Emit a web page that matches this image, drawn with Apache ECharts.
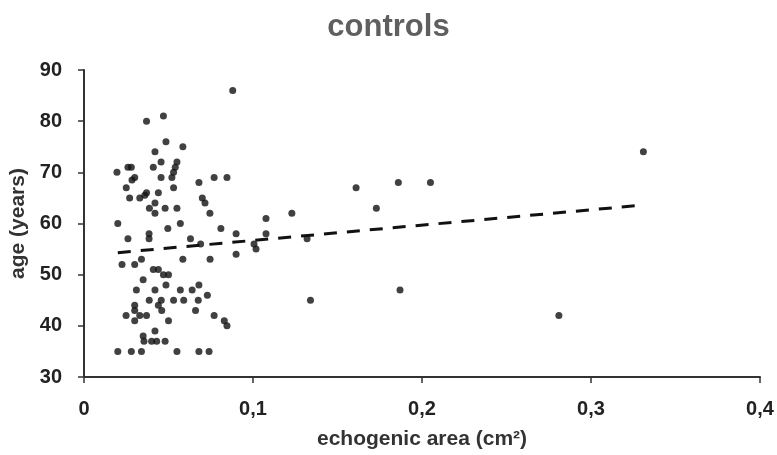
<!DOCTYPE html>
<html>
<head>
<meta charset="utf-8">
<script src="https://cdn.jsdelivr.net/npm/echarts@6/dist/echarts.min.js"></script>
<style>html,body{margin:0;padding:0;background:#fff;}#c{width:777px;height:455px;}</style>
</head>
<body>
<div id="c"></div>
<script>
var titleText = 'controls';
var xName = 'echogenic area (cm²)';
var yName = 'age (years)';
var xTickLabels = ['0', '0,1', '0,2', '0,3', '0,4'];
var yTickLabels = ['30', '40', '50', '60', '70', '80', '90'];

var areaValues = [
  0.088, 0.037, 0.047, 0.0485, 0.0585, 0.042, 0.0456, 0.055, 0.0195, 0.026,
  0.028, 0.041, 0.054, 0.053, 0.052, 0.030, 0.0284, 0.025, 0.0456, 0.053,
  0.068, 0.077, 0.0846, 0.027, 0.033, 0.036, 0.037, 0.044, 0.042, 0.0387,
  0.042, 0.048, 0.055, 0.070, 0.0716, 0.0745, 0.020, 0.057, 0.0496, 0.081,
  0.026, 0.0385, 0.0385, 0.063, 0.090, 0.0225, 0.030, 0.034, 0.0585, 0.0746,
  0.090, 0.035, 0.041, 0.044, 0.047, 0.050, 0.031, 0.042, 0.0485, 0.057,
  0.064, 0.068, 0.0386, 0.0457, 0.053, 0.059, 0.0676, 0.073, 0.030, 0.030,
  0.030, 0.0249, 0.033, 0.037, 0.044, 0.046, 0.050, 0.066, 0.077, 0.083,
  0.0846, 0.042, 0.035, 0.0355, 0.040, 0.043, 0.048, 0.020, 0.028, 0.034,
  0.055, 0.068, 0.074, 0.069, 0.1006, 0.1018, 0.1077, 0.1077, 0.123, 0.132,
  0.134, 0.161, 0.173, 0.186, 0.205, 0.187, 0.331, 0.281
];
var ageValues = [
  86, 80, 81, 76, 75, 74, 72, 72, 70, 71,
  71, 71, 71, 70, 69, 69, 68.5, 67, 69, 67,
  68, 69, 69, 65, 65, 65.5, 66, 66, 64, 63,
  62, 63, 63, 65, 64, 62, 60, 60, 59, 59,
  57, 58, 57, 57, 58, 52, 52, 53, 53, 53,
  54, 49, 51, 51, 50, 50, 47, 47, 48, 47,
  47, 48, 45, 45, 45, 45, 45, 46, 44, 43,
  41, 42, 42, 42, 44, 43, 41, 43, 42, 41,
  40, 39, 38, 37, 37, 37, 37, 35, 35, 35,
  35, 35, 35, 56, 56, 55, 61, 58, 62, 57,
  45, 67, 63, 68, 68, 47, 74, 42
];
var trendX = [0.02, 0.331];
var trendY = [54.3, 63.6];

var points = areaValues.map(function (x, i) { return [x, ageValues[i]]; });
var trend = trendX.map(function (x, i) { return [x, trendY[i]]; });

var chart = echarts.init(document.getElementById('c'), null, {renderer: 'canvas'});
var font = '"Liberation Sans", Arial, sans-serif';
chart.setOption({
  animation: false,
  backgroundColor: '#ffffff',
  title: {
    text: titleText,
    left: 'center',
    top: 7,
    textStyle: {fontFamily: font, fontSize: 31, fontWeight: 'bold', color: '#5f5f5f'}
  },
  grid: {left: 84, right: 17, top: 70, bottom: 78, containLabel: false, outerBoundsMode: 'none'},
  xAxis: {
    type: 'value', min: 0, max: 0.4, interval: 0.1,
    name: xName, nameLocation: 'middle', nameGap: 52,
    nameTextStyle: {fontFamily: font, fontSize: 21, fontWeight: 'bold', color: '#333'},
    axisLine: {show: true, lineStyle: {color: '#333', width: 2}},
    axisTick: {show: true, inside: false, length: 6, lineStyle: {color: '#333', width: 1.5}},
    axisLabel: {
      margin: 22, fontFamily: font, fontSize: 20, fontWeight: 'bold', color: '#222',
      formatter: function (v) { return xTickLabels[Math.round(v * 10)]; }
    },
    splitLine: {show: false}
  },
  yAxis: {
    type: 'value', min: 30, max: 90, interval: 10,
    name: yName, nameLocation: 'middle', nameGap: 52, nameRotate: 90,
    nameTextStyle: {fontFamily: font, fontSize: 21, fontWeight: 'bold', color: '#333'},
    axisLine: {show: true, lineStyle: {color: '#333', width: 2}},
    axisTick: {show: true, inside: false, length: 6, lineStyle: {color: '#333', width: 1.5}},
    axisLabel: {
      margin: 22, fontFamily: font, fontSize: 20, fontWeight: 'bold', color: '#222',
      formatter: function (v) { return yTickLabels[Math.round((v - 30) / 10)]; }
    },
    splitLine: {show: false}
  },
  series: [
    {
      type: 'scatter', data: points, symbol: 'circle', symbolSize: 7,
      itemStyle: {color: '#111'}, z: 3
    },
    {
      type: 'line', data: trend, symbol: 'none', z: 2,
      lineStyle: {color: '#111', width: 3, type: [13, 10]}
    }
  ]
});
</script>
</body>
</html>
